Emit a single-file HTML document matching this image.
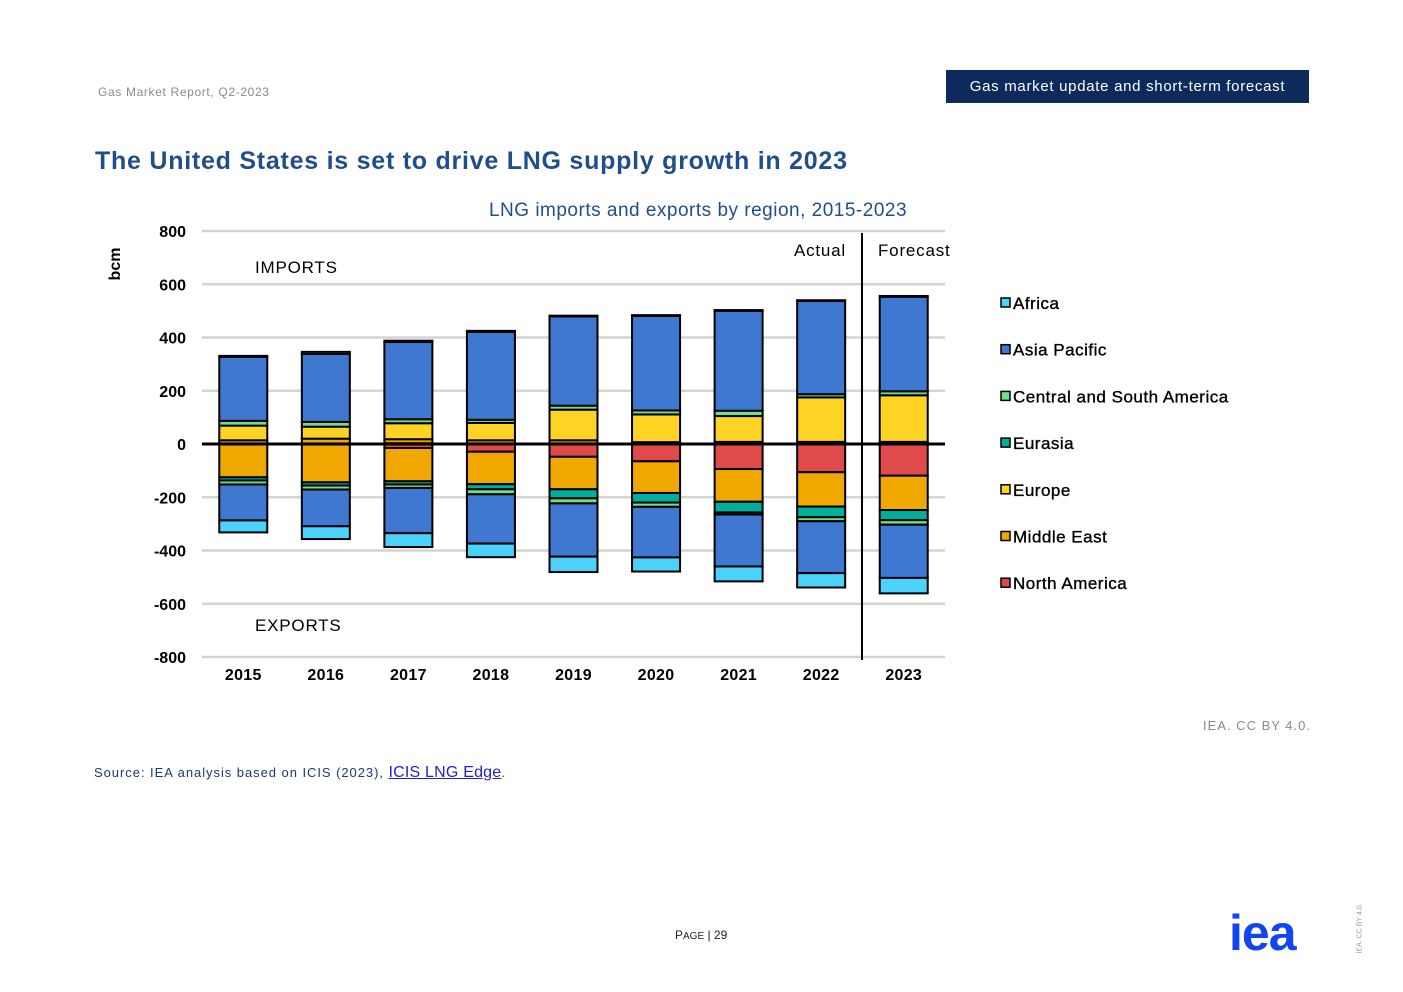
<!DOCTYPE html>
<html><head><meta charset="utf-8"><style>
body{margin:0;width:1403px;height:992px;background:#fff;font-family:"Liberation Sans",sans-serif;position:relative;overflow:hidden}
.abs{position:absolute}
</style></head><body>
<div class="abs" style="left:98px;top:85px;font-size:12px;color:#8a8a8a;letter-spacing:0.65px">Gas Market Report, Q2-2023</div>
<div class="abs" style="left:946px;top:70px;width:363px;height:33px;background:#0d2a5c;color:#fff;font-size:15px;line-height:33px;text-align:center;letter-spacing:0.7px">Gas market update and short-term forecast</div>
<div class="abs" style="left:95px;top:147px;font-size:25px;font-weight:bold;color:#1f4e8c;letter-spacing:0.75px">The United States is set to drive LNG supply growth in 2023</div>
<svg class="abs" style="left:0;top:0" width="1403" height="992" id="chart"></svg>
<div class="abs" style="left:1203px;top:718px;font-size:13px;color:#8a8a8a;letter-spacing:1px">IEA. CC BY 4.0.</div>
<div class="abs" style="left:94px;top:764px;font-size:13px;color:#1f3a6e;letter-spacing:0.95px">Source: IEA analysis based on ICIS (2023), <span style="color:#2222cc;text-decoration:underline;font-size:16px;letter-spacing:0.2px">ICIS LNG Edge</span>.</div>
<div class="abs" style="left:675px;top:928px;font-size:12px;color:#222">P<span style="font-size:10px">AGE</span> | 29</div>
<div class="abs" style="left:1229px;top:906px;font-size:50px;font-weight:bold;color:#1345ee;letter-spacing:-1px;line-height:54px">iea</div>
<div class="abs" style="left:1330px;top:925px;font-size:7px;color:#999;transform:rotate(-90deg);transform-origin:center;width:60px;text-align:center">IEA. CC BY 4.0.</div>
<script>
const years=['2015','2016','2017','2018','2019','2020','2021','2022','2023'];
const series=['North America','Middle East','Europe','Eurasia','Central and South America','Asia Pacific','Africa'];
const colors=['#e04a4a','#f0a800','#ffd324','#00ae9e','#6ee08c','#3f78d0','#4ad2fa'];
const impNA=[2,2,3,2,2,2,3,3,3];
const impME=[12,18,15,12,12,5,5,5,5];
const impEU=[55,45,60,65,115,104,97,167,175];
const impEA=[0,0,0,0,0,0,0,0,0];
const impCSA=[18,18,15,12,15,15,20,12,15];
const impAP=[240,255,290,330,335,355,375,350,355];
const impAF=[4,8,5,4,3,3,3,3,3];
const expNA=[0,2,15,29,48,65,94,106,119];
const expME=[125,142,125,122,122,119,123,129,129];
const expEU=[0,0,0,0,0,0,0,0,0];
const expEA=[12,12,12,19,34,36,40,40,38];
const expCSA=[15,15,13,19,19,16,8,15,17];
const expAP=[135,138,170,185,200,190,195,195,200];
const expAF=[45,48,52,51,58,53,56,54,58];
const yTicks=[800,600,400,200,0,-200,-400,-600,-800];
const legendNames=['Africa','Asia Pacific','Central and South America','Eurasia','Europe','Middle East','North America'];
const legendColors=['#4ad2fa','#3f78d0','#6ee08c','#00ae9e','#ffd324','#f0a800','#e04a4a'];
const imp=[impNA,impME,impEU,impEA,impCSA,impAP,impAF];
const exp=[expNA,expME,expEU,expEA,expCSA,expAP,expAF];
const svg=document.getElementById('chart');const NS='http://www.w3.org/2000/svg';
function el(t,a,txt){const e=document.createElementNS(NS,t);for(const k in a)e.setAttribute(k,a[k]);if(txt!=null)e.textContent=txt;svg.appendChild(e);return e;}
const x0=202,x1=945,yTop=231,yBot=657;
const y=v=>yTop+(800-v)*(yBot-yTop)/1600;
const step=(x1-x0)/years.length;
const xc=i=>x0+step*(i+0.5);
const bw=48;
let t=el('text',{x:698,y:216,'font-size':19,fill:'#1f4e8c','text-anchor':'middle','letter-spacing':0.5},'LNG imports and exports by region, 2015-2023');

yTicks.forEach(v=>{
 if(v!==0){const g=el('line',{x1:x0,x2:x1,y1:y(v),y2:y(v),stroke:'#d4d4d4','stroke-width':2.5});
 }
 const l=el('text',{x:186,y:y(v)+6,'font-size':16,'font-weight':'bold','text-anchor':'end',fill:'#000'},String(v));
 
});
t=el('text',{x:0,y:0,'font-size':16,'font-weight':'bold',transform:'translate(120,264) rotate(-90)','text-anchor':'middle'},'bcm');

years.forEach((yr,i)=>{
 const cx=xc(i);
 [[imp,1],[exp,-1]].forEach(([arr,sgn])=>{
  let cum=0;
  arr.forEach((s,k)=>{
   const v=s[i];if(v<=0)return;
   const a=cum,b=cum+v;cum=b;
   const ya=y(sgn*a),yb=y(sgn*b);
   const r=el('rect',{x:cx-bw/2,y:Math.min(ya,yb),width:bw,height:Math.abs(yb-ya),fill:colors[k],stroke:'#000','stroke-width':2});
   
   
  });
 });
 const l=el('text',{x:cx,y:680,'font-size':16,'font-weight':'bold','text-anchor':'middle','letter-spacing':0.3},yr);
 
});
let z=el('line',{x1:x0,x2:x1,y1:y(0),y2:y(0),stroke:'#000','stroke-width':3});

z=el('line',{x1:862,x2:862,y1:233,y2:660,stroke:'#000','stroke-width':2});

[['Actual',846,256,'end','actual-label'],['Forecast',878,256,'start','forecast-label'],['IMPORTS',255,273,'start','imports-label'],['EXPORTS',255,631,'start','exports-label']].forEach(a=>{
 const e=el('text',{x:a[1],y:a[2],'font-size':17,'text-anchor':a[3],fill:'#000','letter-spacing':0.8},a[0]);
 
});
legendNames.forEach((n,i)=>{
 const ly=304+i*46.7;
 const r=el('rect',{x:1001,y:ly-6,width:9,height:9,fill:legendColors[i],stroke:'#000','stroke-width':1.5});
 
 const e=el('text',{x:1013,y:ly+5,'font-size':17,fill:'#000','letter-spacing':0.5,'stroke':'#000','stroke-width':0.35},n);
 
});
</script>
</body></html>
